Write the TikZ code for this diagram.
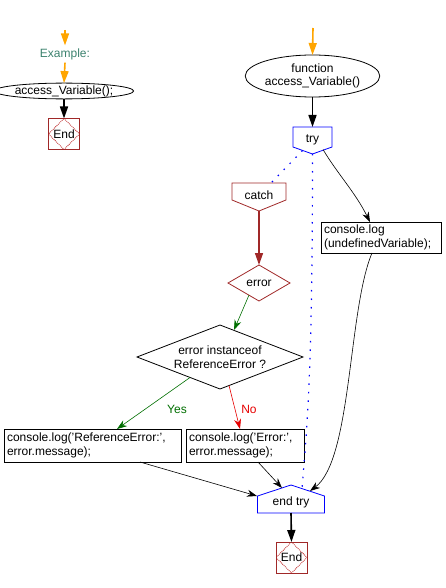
\documentclass[tikz,border=0pt]{standalone}
\usepackage{fontspec}
\setmainfont{Liberation Sans}
\usetikzlibrary{arrows.meta,calc,shapes.geometric}
\definecolor{orng}{RGB}{255,165,0}
\definecolor{brn}{RGB}{160,40,40}
\definecolor{dred}{RGB}{185,30,30}
\definecolor{exgreen}{RGB}{60,130,110}
\definecolor{dgreen}{RGB}{0,110,0}
\definecolor{blu}{RGB}{0,0,255}
\definecolor{rd}{RGB}{230,0,0}
\begin{document}
\begin{tikzpicture}[x=1pt,y=-1pt,
  font=\fontsize{12}{13.5}\selectfont,
  every node/.style={inner sep=0pt, outer sep=0pt},
  flow/.style={line width=1.6pt, -{Triangle[length=12pt,width=8pt]}},
  oflow/.style={flow, draw=orng, -{Triangle[length=12pt,width=8pt,fill=orng]}},
  conn/.style={line width=0.6pt, -{Stealth[length=10pt,width=7pt]}},
  dotline/.style={draw=blu, line width=1.2pt, dash pattern=on 1.5pt off 7pt},
  ell/.style={ellipse, draw, line width=0.8pt, align=center},
  codebox/.style={draw, line width=0.8pt, rectangle, anchor=north west, align=left, inner sep=3pt, minimum height=33pt},
  endbox/.style={draw=brn, line width=0.8pt, minimum width=31pt, minimum height=31pt,
    path picture={\draw[dred, densely dotted, line width=0.8pt]
      (path picture bounding box.north) -- (path picture bounding box.east) --
      (path picture bounding box.south) -- (path picture bounding box.west) -- cycle;}},
  shapeline/.style={line width=0.8pt},
]
\useasboundingbox (0,0) rectangle (446,588);

% ---------- left: main call ----------
\coordinate (o1) at (65,30);
\node[text=exgreen, outer sep=3pt] (ex) at (65,54) {Example:};
\node[ell, minimum width=118pt, minimum height=15pt] (acc) at (64,91) {access\_Variable();};
\node[endbox] (end1) at (64,134) {End};
\draw[oflow] (o1) -- (ex.north);
\draw[oflow] (ex.south) -- (acc.north);
\draw[flow] (acc.south) -- (end1.north);

% ---------- right: function ----------
\coordinate (o2) at (313,28);
\node[ell, minimum width=113pt, minimum height=42pt] (fn) at (312.5,76) {function\\access\_Variable()};
\draw[oflow] (o2) -- (fn.north);

% try
\node (try) at (312.5,140) {try};
\draw[shapeline, blu] ($(try)+(-19.5,-13)$) -- ($(try)+(19.5,-13)$) -- ($(try)+(19.5,7)$)
  -- ($(try)+(0,14)$) -- ($(try)+(-19.5,7)$) -- cycle;
\draw[flow] (fn.south) -- ($(try)+(0,-13)$);

% catch
\node (catch) at (259,195) {catch};
\draw[shapeline, brn] ($(catch)+(-27,-12)$) -- ($(catch)+(27,-12)$) -- ($(catch)+(27,5)$)
  -- ($(catch)+(0,16)$) -- ($(catch)+(-27,5)$) -- cycle;

% error diamond
\node (err) at (259,283) {error};
\draw[shapeline, brn] ($(err)+(-31,0)$) -- ($(err)+(0,-18)$) -- ($(err)+(31,0)$) -- ($(err)+(0,18)$) -- cycle;
\draw[flow, brn, line width=1.4pt] ($(catch)+(0,16)$) -- ($(err)+(0,-18)$);

% decision
\node[align=center] (dec) at (220,357) {error instanceof\\ReferenceError ?};
\draw[shapeline] ($(dec)+(-83,0)$) -- ($(dec)+(0,-32)$) -- ($(dec)+(83,0)$) -- ($(dec)+(0,32)$) -- cycle;
\draw[conn, dgreen] ($(err)+(-10,12)$) -- ($(dec)+(14,-27)$);

% console.log(undefinedVariable)
\node[codebox, text width=114pt, minimum height=31pt] (cl) at (321,222) {console.log\\(undefinedVariable);};

% branch boxes
\node[codebox, text width=171pt] (lb) at (4,429) {console.log('ReferenceError:',\\error.message);};
\node[codebox, text width=112pt] (rb) at (186,429) {console.log('Error:',\\error.message);};

\draw[conn, dgreen] ($(dec)+(-30,20.5)$) -- ($(lb.north west)+(113,0)$);
\node[text=dgreen] (yes) at (177,409) {Yes};
\draw[conn, rd] ($(dec)+(9,28.5)$) -- ($(rb.north west)+(54,0)$);
\node[text=rd] (no) at (249,409) {No};

% end try
\node (et) at (291,502) {end try};
\draw[shapeline, blu] ($(et)+(0,-17)$) -- ($(et)+(33.5,-6)$) -- ($(et)+(33.5,11)$)
  -- ($(et)+(-33.5,11)$) -- ($(et)+(-33.5,-6)$) -- cycle;

\node[endbox] (end2) at (291.5,557.5) {End};
\draw[flow] ($(et)+(0,11)$) -- (end2.north);

% connectors
\draw[conn] ($(try)+(10.5,9.5)$) .. controls +(15,25) and +(-15,-30) .. ($(cl.north west)+(49,0)$);
\draw[conn] ($(cl.south west)+(51,0)$) .. controls +(-24,57) and +(42,-31) .. ($(et)+(19,-11)$);
\draw[conn] ($(lb.south west)+(136,0)$) -- ($(et)+(-34,-6)$);
\draw[conn] ($(rb.south west)+(72,0)$) -- ($(et)+(-9,-14)$);

\draw[dotline] ($(try)+(-10,10.5)$) -- ($(catch)+(12,-12)$);
\draw[dotline] ($(try)+(0,14)$) .. controls +(0,220) and +(5,-60) .. ($(et)+(11,-13.7)$);
\end{tikzpicture}
\end{document}
